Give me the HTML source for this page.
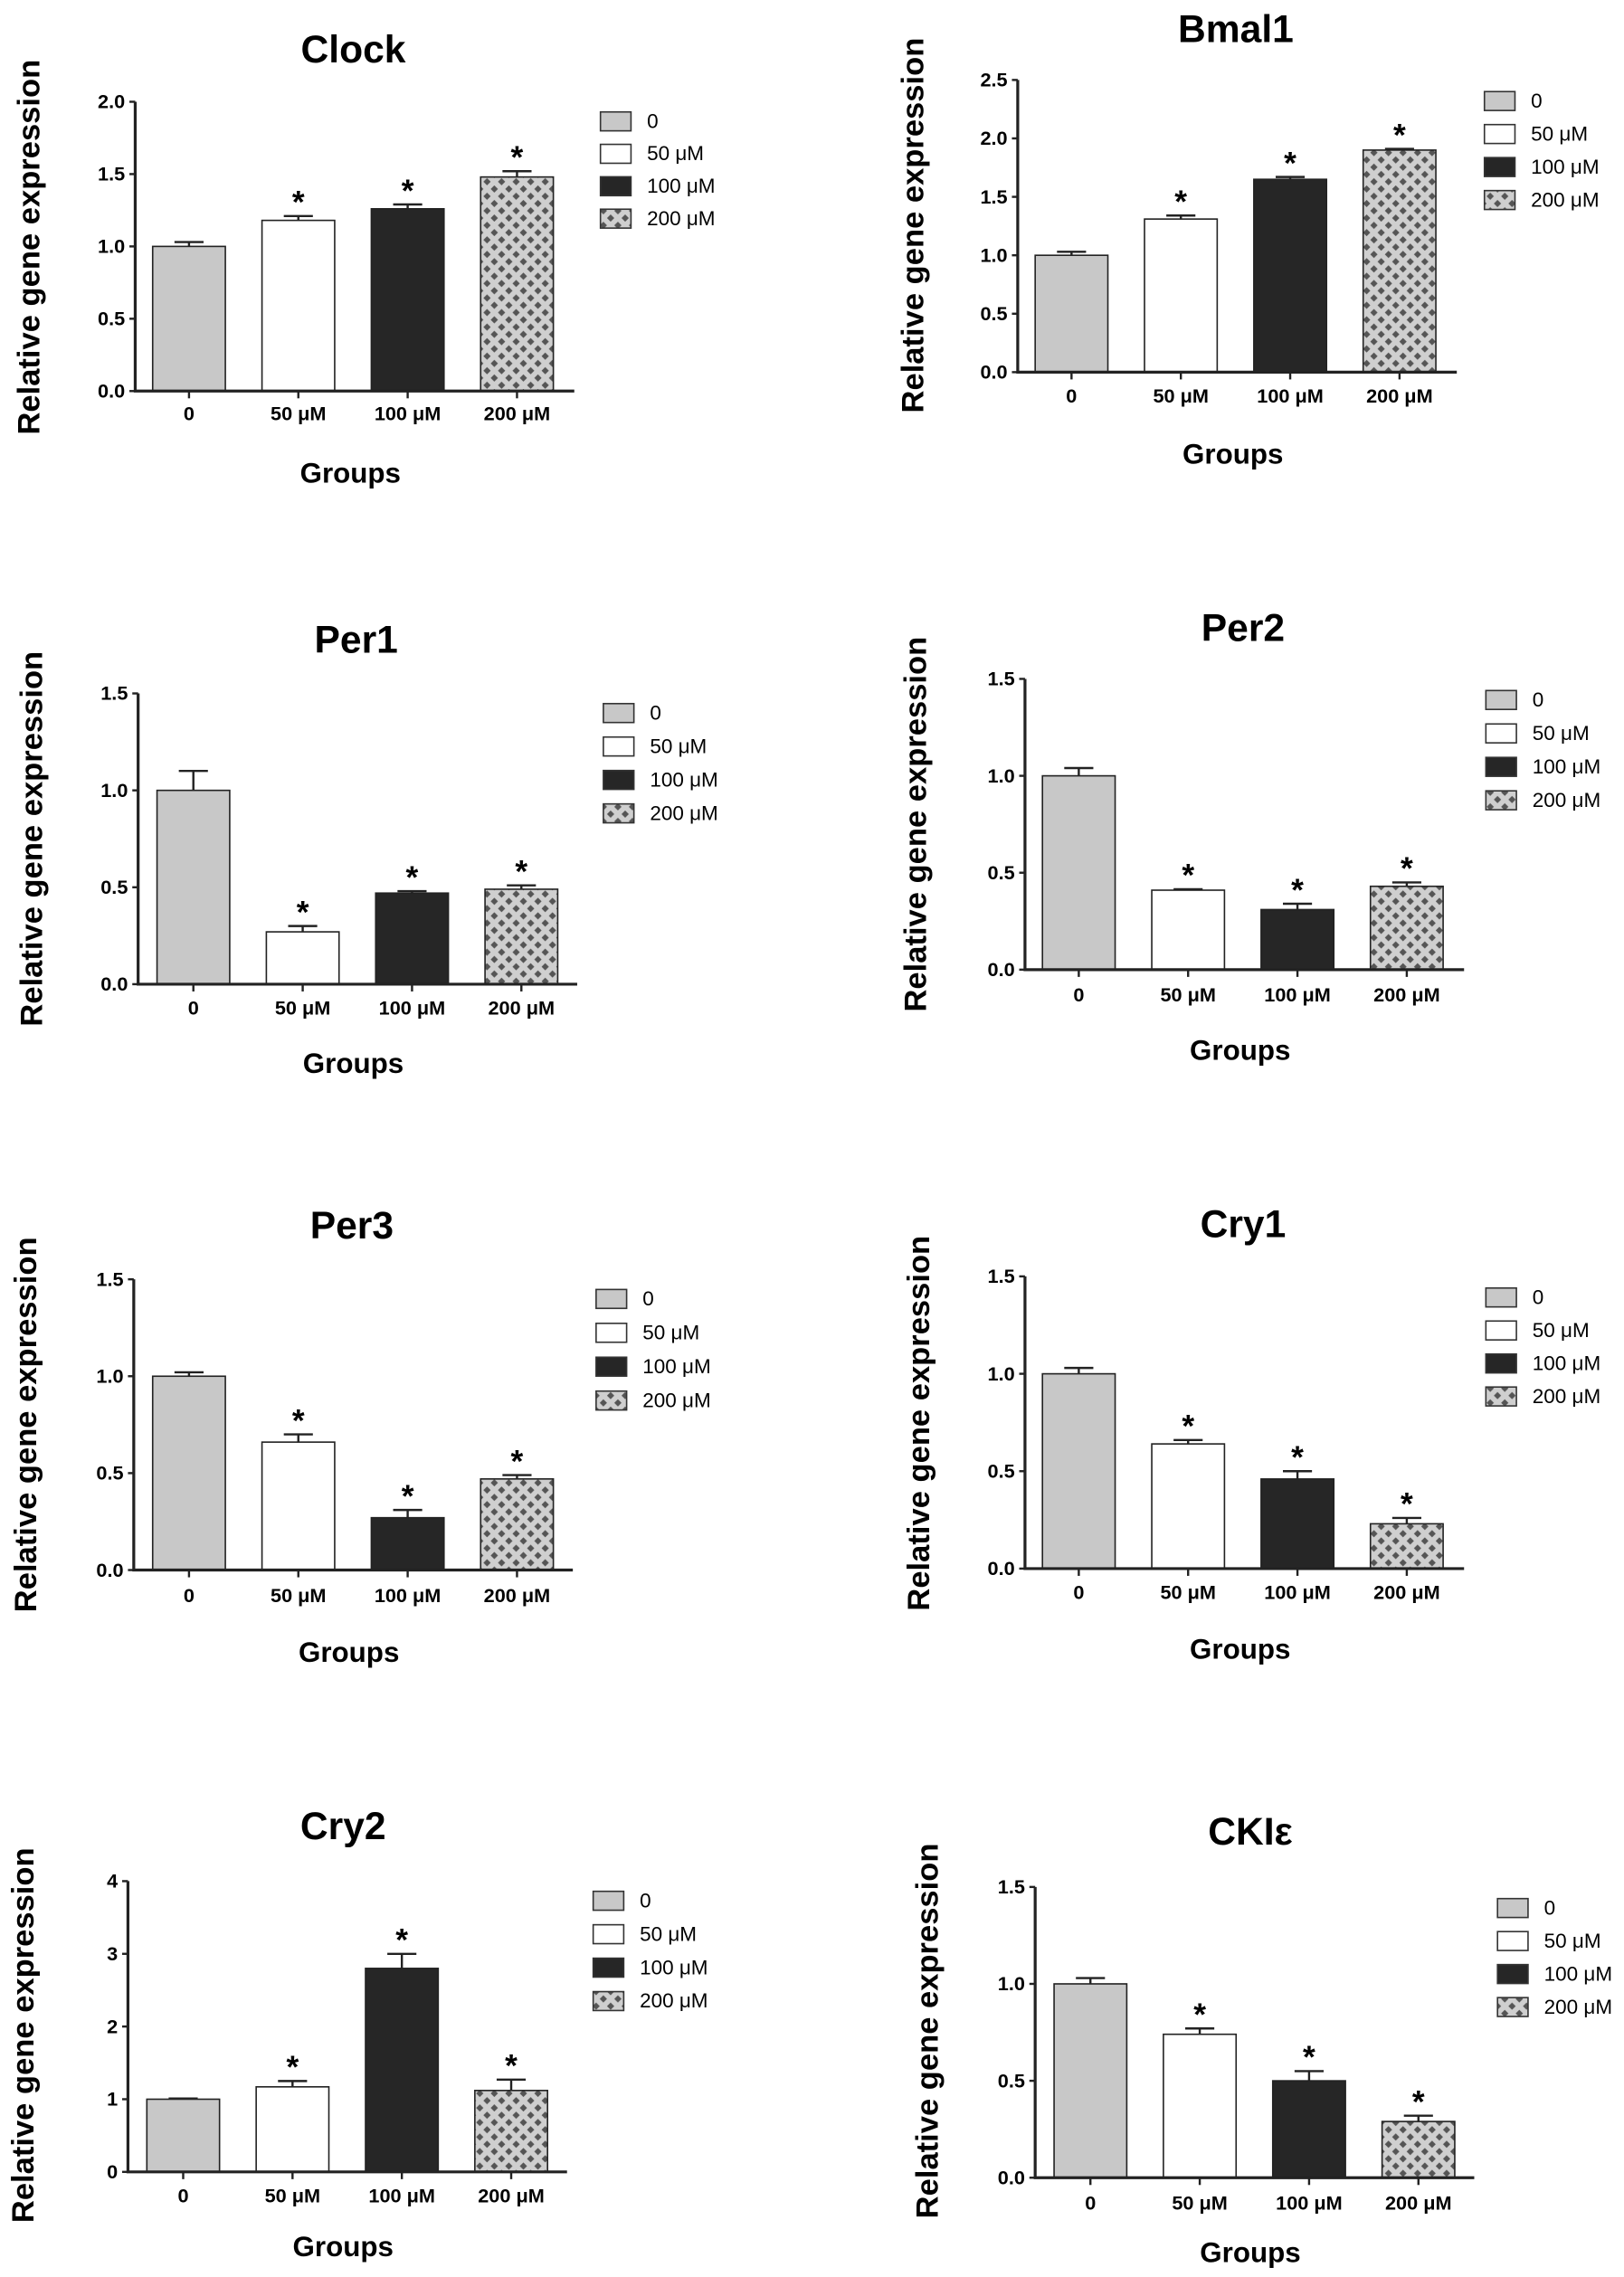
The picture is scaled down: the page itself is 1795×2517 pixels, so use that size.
<!DOCTYPE html>
<html><head><meta charset="utf-8"><style>
html,body{margin:0;padding:0;background:#fff;}
svg{display:block;}
text{font-family:"Liberation Sans",sans-serif;}
</style></head><body>
<svg id="fig" width="1795" height="2517" viewBox="0 0 1117 1566.3" preserveAspectRatio="none" xmlns="http://www.w3.org/2000/svg">
<defs>
<pattern id="chk" patternUnits="userSpaceOnUse" width="10" height="10">
<rect width="10" height="10" fill="#cfcfcf"/>
<path d="M5 2.5 L7.5 5 L5 7.5 L2.5 5 Z" fill="#555"/>
<path d="M0 -2.5 L2.5 0 L0 2.5 L-2.5 0 Z M10 -2.5 L12.5 0 L10 2.5 L7.5 0 Z M0 7.5 L2.5 10 L0 12.5 L-2.5 10 Z M10 7.5 L12.5 10 L10 12.5 L7.5 10 Z" fill="#555"/>
</pattern>
</defs>
</svg>
<script>
const groups = ["0","50 μM","100 μM","200 μM"];
const clockVals=[1.0,1.18,1.26,1.48], clockErr=[0.03,0.03,0.03,0.04];
const bmalVals=[1.0,1.31,1.65,1.9], bmalErr=[0.03,0.03,0.02,0.01];
const per1Vals=[1.0,0.27,0.47,0.49], per1Err=[0.1,0.03,0.01,0.02];
const per2Vals=[1.0,0.41,0.31,0.43], per2Err=[0.04,0.005,0.03,0.02];
const per3Vals=[1.0,0.66,0.27,0.47], per3Err=[0.02,0.04,0.04,0.02];
const cry1Vals=[1.0,0.64,0.46,0.23], cry1Err=[0.03,0.02,0.04,0.03];
const cry2Vals=[1.0,1.17,2.8,1.12], cry2Err=[0.01,0.08,0.2,0.15];
const ck1Vals=[1.0,0.74,0.5,0.29], ck1Err=[0.03,0.03,0.05,0.03];
const ticks15=["0.0","0.5","1.0","1.5"];
const ticks20=["0.0","0.5","1.0","1.5","2.0"];
const ticks25=["0.0","0.5","1.0","1.5","2.0","2.5"];
const ticks4=["0","1","2","3","4"];
const stars=[false,true,true,true];
const fills=["#c8c8c8","#ffffff","#262626","url(#chk)"];

const panels=[
 {name:"Clock",vals:clockVals,err:clockErr,ticks:ticks20,ax:93,yTop:70,y0:269,title:[243,34],labY:284,grpY:325,ylab:[20,170],legX:413,legY:83,legD:22.3,bx:105},
 {name:"Bmal1",vals:bmalVals,err:bmalErr,ticks:ticks25,ax:700,yTop:55,y0:256,title:[850,20],labY:272,grpY:312,ylab:[628,155],legX:1021,legY:69,legD:22.7,bx:712},
 {name:"Per1",vals:per1Vals,err:per1Err,ticks:ticks15,ax:95,yTop:477,y0:677,title:[245,440],labY:693,grpY:731,ylab:[22,577],legX:415,legY:490,legD:23,bx:108},
 {name:"Per2",vals:per2Vals,err:per2Err,ticks:ticks15,ax:705,yTop:467,y0:667,title:[855,432],labY:684,grpY:722,ylab:[630,567],legX:1022,legY:481,legD:23,bx:717},
 {name:"Per3",vals:per3Vals,err:per3Err,ticks:ticks15,ax:92,yTop:880,y0:1080,title:[242,843],labY:1097,grpY:1136,ylab:[18,980],legX:410,legY:893,legD:23.3,bx:105},
 {name:"Cry1",vals:cry1Vals,err:cry1Err,ticks:ticks15,ax:705,yTop:878,y0:1079,title:[855,842],labY:1095,grpY:1134,ylab:[632,979],legX:1022,legY:892,legD:22.7,bx:717},
 {name:"Cry2",vals:cry2Vals,err:cry2Err,ticks:ticks4,ax:88,yTop:1294,y0:1494,title:[236,1256],labY:1510,grpY:1545,ylab:[16,1400],legX:408,legY:1307,legD:23,bx:101},
 {name:"CKIε",vals:ck1Vals,err:ck1Err,ticks:ticks15,ax:712,yTop:1298,y0:1498,title:[860,1260],labY:1515,grpY:1549,ylab:[638,1397],legX:1030,legY:1312,legD:22.7,bx:725}
];
const NS="http://www.w3.org/2000/svg";
const svg=document.getElementById('fig');
function el(tag,attrs,parent,txt){const e=document.createElementNS(NS,tag);for(const k in attrs)e.setAttribute(k,attrs[k]);if(txt!==undefined)e.textContent=txt;parent.appendChild(e);return e;}
panels.forEach(p=>{
 const g=el('g',{},svg);
 
 
 const maxV=parseFloat(p.ticks[p.ticks.length-1]);
 const yS=v=>p.y0-(v/maxV)*(p.y0-p.yTop);
 const xS=i=>p.bx+i*75.2;
 const bw=50;
 const xEnd=p.ax+302;
 const t=el('text',{x:p.title[0],y:p.title[1]+9,'font-size':26.5,'font-weight':'bold','text-anchor':'middle'},g,p.name);
 
 
 const yl=el('text',{x:0,y:0,'font-size':21.5,'font-weight':'bold','text-anchor':'middle',transform:`translate(${p.ylab[0]+7},${p.ylab[1]}) rotate(-90)`},g,'Relative gene expression');
 
 
 p.vals.forEach((v,i)=>{
  const x=xS(i), y=yS(v);
  const b=el('rect',{x:x,y:y,width:bw,height:p.y0-y,fill:fills[i],stroke:'#222','stroke-width':1},g);
  
  
  const ye=yS(v+p.err[i]);
  const cx=x+bw/2;
  const eb=el('path',{d:`M${cx} ${y} V${ye} M${cx-10} ${ye} H${cx+10}`,stroke:'#222','stroke-width':1.5,fill:'none'},g);
  
  
  if(stars[i]){
   const s=el('text',{x:cx,y:ye-2,'font-size':22,'font-weight':'bold','text-anchor':'middle'},g,'*');
   
   
  }
  el('line',{x1:cx,x2:cx,y1:p.y0,y2:p.y0+5,stroke:'#222','stroke-width':1.5},g);
  const lb=el('text',{x:cx,y:p.labY+5,'font-size':13.5,'font-weight':'bold','text-anchor':'middle'},g,groups[i]);
  
  
 });
 const ax=el('path',{d:`M${p.ax} ${p.yTop} V${p.y0} H${xEnd}`,stroke:'#222','stroke-width':2,fill:'none'},g);
 
 
 p.ticks.forEach(tk=>{
  const y=yS(parseFloat(tk));
  el('line',{x1:p.ax-4,x2:p.ax,y1:y,y2:y,stroke:'#222','stroke-width':1.5},g);
  const tl=el('text',{x:p.ax-7,y:y+4.5,'font-size':13.5,'font-weight':'bold','text-anchor':'end'},g,tk);
  
  
 });
 const gr=el('text',{x:(p.ax+xEnd)/2-3,y:p.grpY+7,'font-size':19.5,'font-weight':'bold','text-anchor':'middle'},g,'Groups');
 
 
 groups.forEach((name,i)=>{
  const y=p.legY+i*p.legD;
  const lr=el('rect',{x:p.legX,y:y-6,width:21,height:13,fill:fills[i],stroke:'#333','stroke-width':1},g);
  
  
  const lt=el('text',{x:p.legX+32,y:y+5,'font-size':14},g,name);
  
  
 });
});
</script>
</body></html>
